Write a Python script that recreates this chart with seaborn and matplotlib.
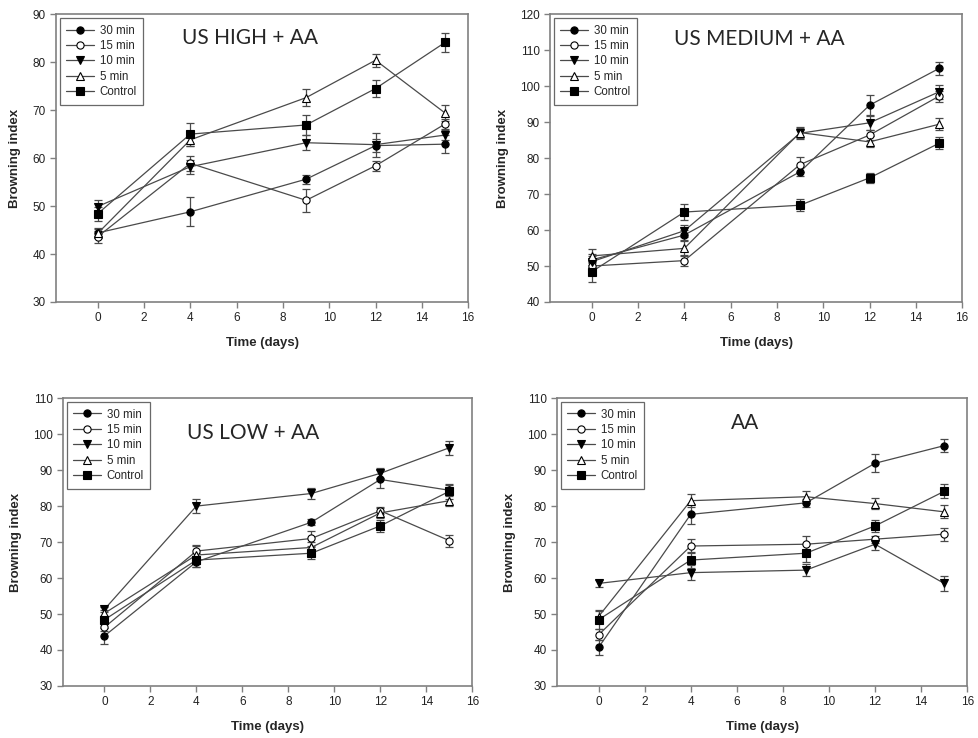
import numpy as np
import pandas as pd
import matplotlib
matplotlib.use('Agg')
import matplotlib.pyplot as plt
import seaborn as sns

days = [0, 4, 9, 12, 15]
series_names = ['30 min', '15 min', '10 min', '5 min', 'Control']

# panel 1: US HIGH + AA
high_vals = {
    '30 min': [44.4, 48.8, 55.6, 62.6, 62.9],
    '15 min': [43.6, 58.9, 51.2, 58.4, 67.1],
    '10 min': [49.9, 58.2, 63.2, 62.8, 64.8],
    '5 min': [44.3, 63.8, 72.6, 80.4, 69.4],
    'Control': [48.4, 65.0, 66.9, 74.5, 84.1],
}
high_err = {
    '30 min': [1.0, 3.0, 0.9, 1.3, 1.9],
    '15 min': [1.2, 1.5, 2.4, 1.0, 1.0],
    '10 min': [1.3, 1.5, 1.6, 2.5, 1.0],
    '5 min': [1.0, 1.3, 1.7, 1.4, 1.7],
    'Control': [1.5, 2.4, 2.1, 1.7, 1.9],
}

# panel 2: US MEDIUM + AA
medium_vals = {
    '30 min': [51.7, 58.6, 76.2, 94.7, 104.9],
    '15 min': [50.0, 51.5, 78.2, 86.4, 97.2],
    '10 min': [51.2, 59.8, 86.9, 89.8, 98.4],
    '5 min': [52.8, 54.9, 87.1, 84.5, 89.4],
    'Control': [48.4, 65.0, 66.9, 74.5, 84.1],
}
medium_err = {
    '30 min': [1.5, 1.5, 1.2, 2.8, 1.7],
    '15 min': [1.5, 1.5, 2.0, 1.5, 1.5],
    '10 min': [1.5, 1.7, 1.5, 2.0, 2.0],
    '5 min': [2.0, 2.0, 1.5, 1.5, 1.7],
    'Control': [2.8, 2.2, 1.7, 1.3, 1.7],
}

# panel 3: US LOW + AA
low_vals = {
    '30 min': [43.9, 64.5, 75.5, 87.4, 84.4],
    '15 min': [46.3, 67.5, 71.0, 78.7, 70.4],
    '10 min': [51.3, 80.0, 83.5, 89.1, 96.2],
    '5 min': [50.2, 66.4, 68.5, 78.1, 81.5],
    'Control': [48.4, 65.0, 66.9, 74.5, 84.1],
}
low_err = {
    '30 min': [2.2, 1.5, 0.8, 2.5, 1.5],
    '15 min': [1.0, 1.7, 2.0, 1.0, 1.7],
    '10 min': [0.7, 2.0, 1.6, 1.4, 2.0],
    '5 min': [0.8, 2.5, 1.5, 1.5, 1.5],
    'Control': [1.0, 2.0, 1.7, 1.7, 2.0],
}

# panel 4: AA
aa_vals = {
    '30 min': [40.7, 77.7, 80.9, 91.9, 96.8],
    '15 min': [44.2, 68.9, 69.4, 70.8, 72.2],
    '10 min': [58.5, 61.5, 62.2, 69.4, 58.5],
    '5 min': [49.3, 81.5, 82.6, 80.7, 78.4],
    'Control': [48.4, 65.0, 66.9, 74.5, 84.1],
}
aa_err = {
    '30 min': [2.2, 2.8, 1.2, 2.5, 1.8],
    '15 min': [1.5, 2.0, 2.2, 1.0, 1.8],
    '10 min': [1.0, 2.0, 1.7, 1.5, 2.0],
    '5 min': [1.8, 1.8, 1.7, 1.5, 1.8],
    'Control': [2.5, 2.2, 2.5, 1.7, 1.9],
}

panel_titles = ['US HIGH + AA', 'US MEDIUM + AA', 'US LOW + AA', 'AA']
panel_ylims = [(30, 90), (40, 120), (30, 110), (30, 110)]
panel_yticks = [range(30, 91, 10), range(40, 121, 10), range(30, 111, 10), range(30, 111, 10)]

sns.set_style('ticks')
plt.rcParams['font.family'] = ['Liberation Sans', 'DejaVu Sans']

styles = {
    '30 min': dict(marker='o', markerfacecolor='black'),
    '15 min': dict(marker='o', markerfacecolor='white'),
    '10 min': dict(marker='v', markerfacecolor='black'),
    '5 min': dict(marker='^', markerfacecolor='white'),
    'Control': dict(marker='s', markerfacecolor='black'),
}

fig = plt.figure(figsize=(9.79, 7.38), dpi=100)
positions = [
    [0.0572, 0.5908, 0.421, 0.390],
    [0.5618, 0.5908, 0.421, 0.390],
    [0.0644, 0.0705, 0.418, 0.390],
    [0.5690, 0.0705, 0.419, 0.390],
]
title_pos = [(0.306, 0.917), (0.30, 0.912), (0.303, 0.878), (0.424, 0.913)]
all_vals = [high_vals, medium_vals, low_vals, aa_vals]
all_err = [high_err, medium_err, low_err, aa_err]

line_col = '#4a4a4a'
for i in range(4):
    ax = fig.add_axes(positions[i])
    vals = all_vals[i]
    errs = all_err[i]
    for name in series_names:
        ax.errorbar(days, vals[name], yerr=errs[name], fmt='none', ecolor=line_col,
                    elinewidth=0.9, capsize=3, capthick=0.9, zorder=2)
        df = pd.DataFrame({'day': days, 'value': vals[name]})
        sns.lineplot(data=df, x='day', y='value', ax=ax, color=line_col, linewidth=0.9,
                     markersize=5.2, markeredgecolor='black', markeredgewidth=0.8,
                     label=name, zorder=3, **styles[name])
    ax.set_xlim(-1.8, 16)
    ax.set_ylim(*panel_ylims[i])
    ax.set_xticks(range(0, 17, 2))
    ax.set_yticks(list(panel_yticks[i]))
    ax.tick_params(direction='out', length=4, width=1, color='#808080', labelsize=8.5,
                   labelcolor='#222222')
    for s in ax.spines.values():
        s.set_color('#808080')
        s.set_linewidth(1.2)
    ax.set_xlabel('Time (days)', fontsize=9.5, fontweight='bold', labelpad=9)
    ax.set_ylabel('Browning index', fontsize=9.5, fontweight='bold', labelpad=8)
    ax.text(title_pos[i][0], title_pos[i][1], panel_titles[i], transform=ax.transAxes,
            fontsize=15, family='Lato', va='center', ha='left')
    leg = ax.legend(loc='upper left', fontsize=8.3, frameon=True, fancybox=False,
                    edgecolor='#444444', borderaxespad=0.35, handlelength=2.4,
                    labelspacing=0.3, borderpad=0.55, handletextpad=0.5)
    leg.get_frame().set_linewidth(0.9)

plt.savefig('out.png', dpi=100)
